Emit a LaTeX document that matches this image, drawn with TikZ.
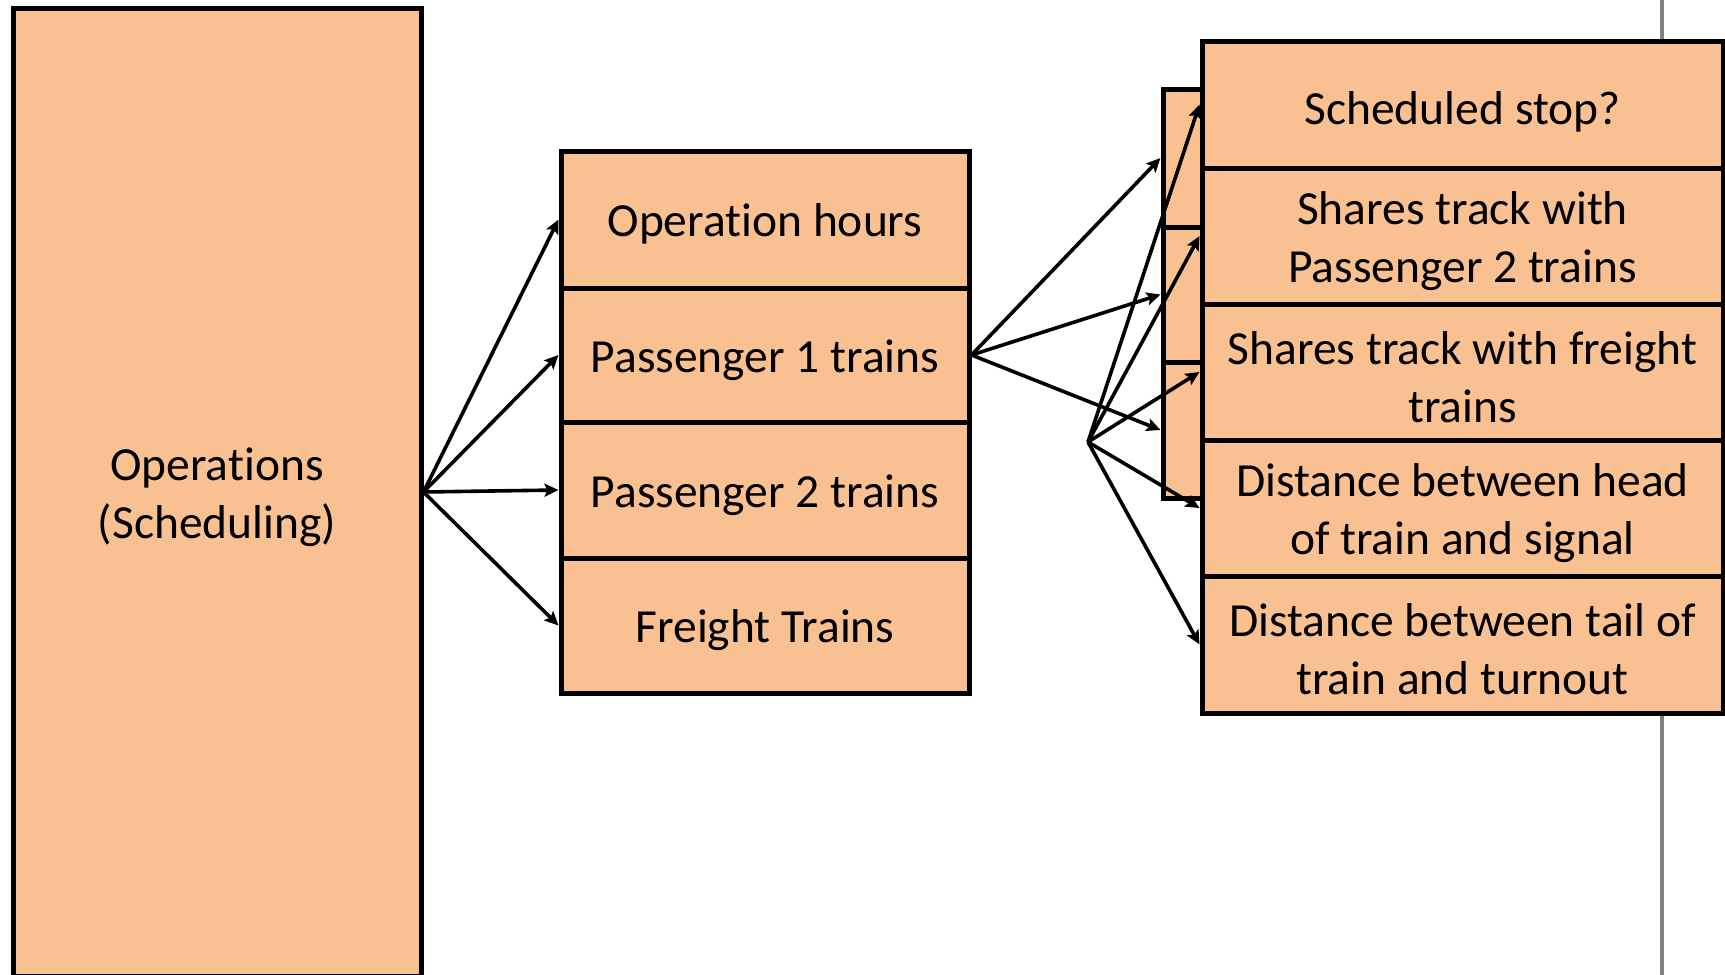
\documentclass[tikz,border=0pt]{standalone}
\usepackage{fontspec}
\setmainfont{Carlito}[RawFeature=-liga]
\usetikzlibrary{arrows.meta}
\definecolor{boxfill}{RGB}{249,193,145}
\definecolor{divgray}{RGB}{128,128,128}
\begin{document}
\begin{tikzpicture}[x=0.5pt,y=-0.5pt,
  box/.style={draw=black, line width=2.5pt, fill=boxfill, inner sep=0pt},
  txt/.style={align=center, inner sep=0pt, yshift=-2.4pt,
    font=\fontsize{23.75}{29}\selectfont},
  arr/.style={line width=1.8pt, -{Stealth[length=7pt,width=6.5pt,inset=1.4pt]}},
  divider/.style={draw=divgray, line width=2.2pt},
]
\clip (0,0) rectangle (1725,975);
\fill[white] (0,0) rectangle (1725,975);

% gray vertical divider
\coordinate (gtop) at (1662,0);
\coordinate (gbot) at (1662,975);
\draw[divider] (gtop) -- (gbot);

% left box
\node[box, minimum width=204pt, minimum height=484pt,
  label={[txt]center:Operations\\(Scheduling)}] (ops) at (217,492) {};

% middle column
\node[box, minimum width=204pt, minimum height=68.5pt,
  label={[txt]center:Operation hours}] (oh) at (765,219.5) {};
\node[box, minimum width=204pt, minimum height=67pt,
  label={[txt]center:Passenger 1 trains}] (p1) at (765,355) {};
\node[box, minimum width=204pt, minimum height=68pt,
  label={[txt]center:Passenger 2 trains}] (p2) at (765,490) {};
\node[box, minimum width=204pt, minimum height=67.5pt,
  label={[txt]center:Freight Trains}] (ft) at (765,625.5) {};

% hidden column (behind right column)
\node[box, minimum width=120pt, minimum height=69pt] (h1) at (1283,158) {};
\node[box, minimum width=120pt, minimum height=67.5pt] (h2) at (1283,294.5) {};
\node[box, minimum width=120pt, minimum height=68pt] (h3) at (1283,430) {};

% right column
\node[box, minimum width=260.5pt, minimum height=63.5pt,
  label={[txt,yshift=-1.5pt]center:Scheduled stop?}] (r1) at (1462.5,104.5) {};
\node[box, minimum width=260.5pt, minimum height=68pt,
  label={[txt]center:Shares track with\\Passenger 2 trains}] (r2) at (1462.5,236) {};
\node[box, minimum width=260.5pt, minimum height=68pt,
  label={[txt]center:Shares track with freight\\trains}] (r3) at (1462.5,372) {};
\node[box, minimum width=260.5pt, minimum height=68pt,
  label={[txt]center:Distance between head\\of train and signal}] (r4) at (1462.5,508) {};
\node[box, minimum width=260.5pt, minimum height=68.5pt,
  label={[txt]center:Distance between tail of\\train and turnout}] (r5) at (1462.5,644.5) {};

% connectors
\draw[arr] (ops.east) -- (oh.west);
\draw[arr] (ops.east) -- (p1.west);
\draw[arr] (ops.east) -- (p2.west);
\draw[arr] (ops.east) -- (ft.west);

\draw[arr] (p1.east) -- (h1.west);
\draw[arr] (p1.east) -- (h2.west);
\draw[arr] (p1.east) -- (h3.west);

\coordinate (fan) at (1088,442);
\draw[arr] (fan) -- (r1.west);
\draw[arr] (fan) -- (r2.west);
\draw[arr] (fan) -- (r3.west);
\draw[arr] (fan) -- (r4.west);
\draw[arr] (fan) -- (r5.west);
\end{tikzpicture}
\end{document}
